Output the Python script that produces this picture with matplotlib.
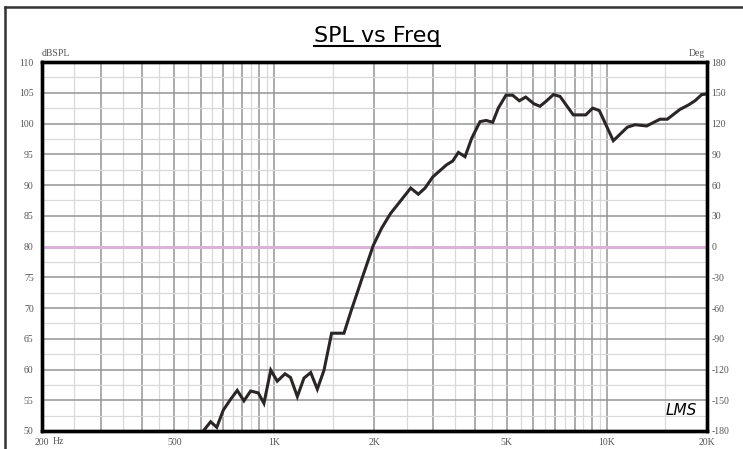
import matplotlib.pyplot as plt
from matplotlib.lines import Line2D

plt.rcParams['axes.unicode_minus'] = False

# SPL curve (Hz, dBSPL)
freq = [590, 611, 643, 671, 702, 735, 773, 810, 848, 894, 930, 975, 1020, 1076,
        1118, 1172, 1227, 1286, 1346, 1410, 1486, 1619, 1700, 1770, 1834, 1984,
        2102, 2237, 2386, 2570, 2709, 2838, 2993, 3297, 3438, 3575, 3744, 3921,
        4153, 4329, 4535, 4713, 4971, 5206, 5453, 5699, 6035, 6292, 6591, 6903,
        7229, 7922, 8636, 9062, 9490, 10453, 11520, 12151, 13175, 13960, 14452,
        15195, 16590, 17574, 18410, 19280, 20000]
spl = [47.8, 50.0, 51.5, 50.6, 53.4, 55.0, 56.6, 54.9, 56.5, 56.2, 54.5, 59.9,
       58.1, 59.3, 58.7, 55.6, 58.6, 59.5, 56.8, 59.9, 65.9, 65.9, 69.5, 72.3,
       74.8, 80.2, 83.0, 85.4, 87.3, 89.5, 88.5, 89.5, 91.3, 93.3, 93.9, 95.3,
       94.6, 97.6, 100.3, 100.5, 100.2, 102.5, 104.6, 104.6, 103.7, 104.3, 103.2,
       102.8, 103.7, 104.7, 104.4, 101.4, 101.4, 102.5, 102.1, 97.2, 99.4, 99.8,
       99.6, 100.3, 100.7, 100.7, 102.3, 103.0, 103.7, 104.7, 104.8]

x_ticks = [200, 500, 1000, 2000, 5000, 10000, 20000]
x_labels = ['200', '500', '1K', '2K', '5K', '10K', '20K']
db_ticks = list(range(50, 111, 5))
deg_ticks = list(range(-180, 181, 30))

fig = plt.figure(figsize=(7.43, 4.49), dpi=100)
ax = fig.add_axes([42 / 743, 1 - 431 / 449, 665 / 743, 369 / 449])

# grid: dark on round values, light halfway
dark_x = list(range(300, 1000, 100)) + list(range(1000, 10001, 1000))
light_x = list(range(250, 1000, 100)) + list(range(1500, 10000, 1000)) + [15000]
for f in light_x:
    ax.axvline(f, color='#d9d9d9', lw=0.9, zorder=1)
for f in dark_x:
    ax.axvline(f, color='#959595', lw=1.1, zorder=1)
for d in range(50, 110, 5):
    ax.axhline(d + 2.5, color='#d9d9d9', lw=0.9, zorder=1)
for d in range(55, 110, 5):
    ax.axhline(d, color='#959595', lw=1.1, zorder=1)

ax.axhline(80, color='#dbb3d9', lw=2.2, zorder=2)
ax.plot(freq, spl, color='#2b2626', lw=2.2, zorder=3, solid_joinstyle='miter')

ax.set_xscale('log')
ax.set_xlim(200, 20000)
ax.set_ylim(50, 110)
ax.set_xticks(x_ticks)
ax.set_xticklabels(x_labels)
ax.xaxis.set_minor_locator(plt.NullLocator())
ax.set_yticks(db_ticks)

ax2 = ax.twinx()
ax2.set_ylim(-180, 180)
ax2.set_yticks(deg_ticks)

tick_font = dict(family='Liberation Serif', size=7, color='#555555')
for a in (ax, ax2):
    for s in a.spines.values():
        s.set_linewidth(2.4)
        s.set_color('black')
    for lab in a.get_xticklabels() + a.get_yticklabels():
        lab.set_fontfamily(tick_font['family'])
        lab.set_fontsize(tick_font['size'])
        lab.set_color(tick_font['color'])
ax.tick_params(axis='both', length=0)
ax.tick_params(axis='y', pad=6)
ax.tick_params(axis='x', pad=5)
ax2.tick_params(axis='y', length=0, pad=3)

fig.text(42 / 743, 1 - 58 / 449, 'dBSPL', ha='left', va='bottom', **tick_font)
fig.text(705 / 743, 1 - 58 / 449, 'Deg', ha='right', va='bottom', **tick_font)
fig.text(53 / 743, 1 - 437 / 449, 'Hz', ha='left', va='top', **tick_font)

ax.text(0.985, 0.035, 'LMS', transform=ax.transAxes, ha='right', va='bottom',
        fontsize=11, style='italic', family='DejaVu Sans', color='black', zorder=4)

title = fig.text(377 / 743, 1 - 42 / 449, 'SPL vs Freq', ha='center', va='baseline',
                 fontsize=16, family='DejaVu Sans', color='black')
# underline spanning the title text
fig.canvas.draw()
bb = title.get_window_extent().transformed(fig.transFigure.inverted())
fig.add_artist(Line2D([bb.x0, bb.x1], [1 - 46 / 449, 1 - 46 / 449],
                      color='black', lw=1.5))

# outer frame (left and top edges)
fig.add_artist(Line2D([4.5 / 743, 4.5 / 743], [0, 1 - 7 / 449], color='#333333', lw=1.8))
fig.add_artist(Line2D([4.5 / 743, 1], [1 - 7 / 449, 1 - 7 / 449], color='#333333', lw=1.8))

fig.savefig('out.png', dpi=100)
